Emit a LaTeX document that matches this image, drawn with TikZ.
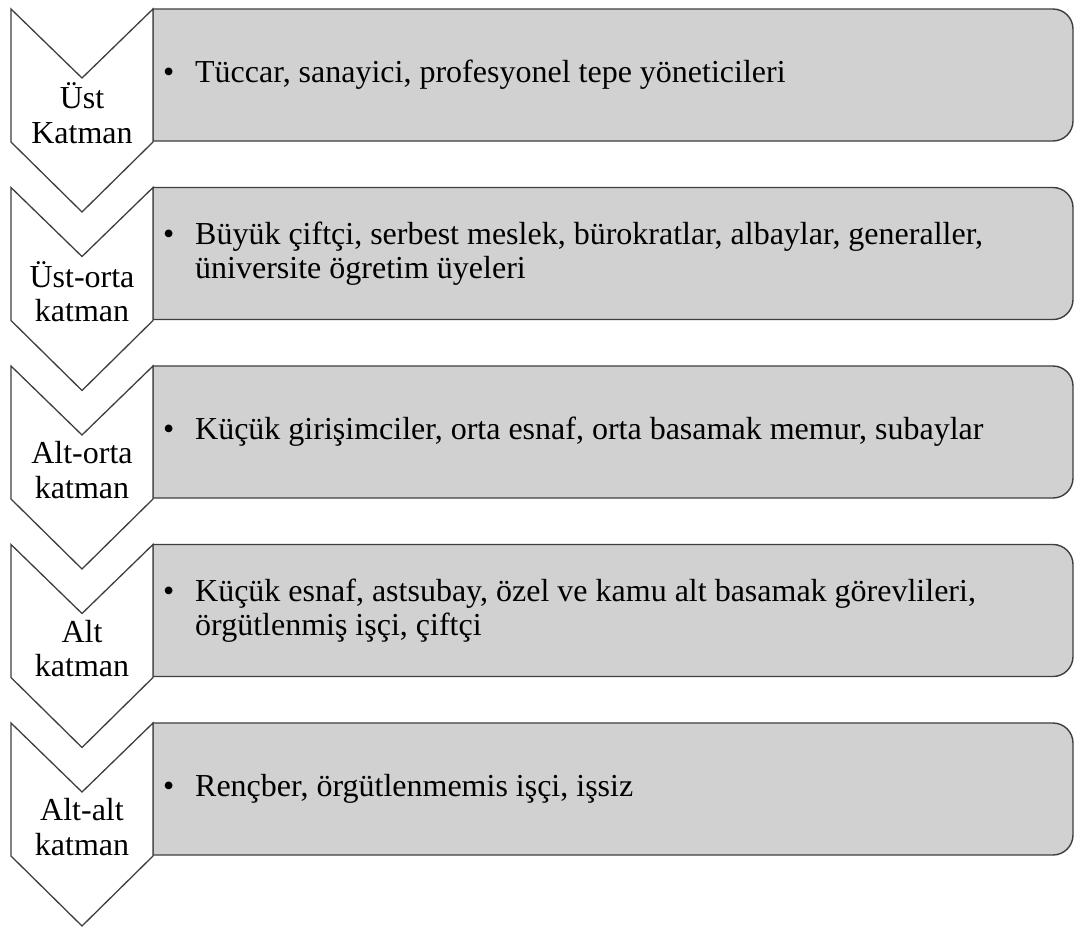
\documentclass[tikz,border=0pt]{standalone}
\usepackage{fontspec}
\setmainfont{Liberation Serif}
\definecolor{linegray}{RGB}{62,62,62}
\definecolor{boxgray}{RGB}{209,209,209}
\newcommand{\layerbox}[3]{%
  % #1 = top y, #2 = name, #3 = content
  \draw[boxstyle] (153,#1) -- (1053,#1) arc[start angle=-90,end angle=0,radius=20]
    -- (1073,#1+112) arc[start angle=0,end angle=90,radius=20] -- (153,#1+132) -- cycle;
  \node[boxtext] (#2) at (163,#1+67) {#3};
}
\newcommand{\layerchev}[3]{%
  \draw[chevstyle] (11,#1) -- (82,#1+69) -- (153,#1) -- (153,#1+133) -- (82,#1+203) -- (11,#1+133) -- cycle;
  \node[chevtext] (#2) at (82,#1+104) {#3};
}
\begin{document}
\begin{tikzpicture}[x=1pt,y=-1pt,
  boxstyle/.style={draw=linegray,fill=boxgray,line width=1.4pt},
  chevstyle/.style={draw=linegray,fill=white,line width=1.3pt,line join=miter},
  boxtext/.style={anchor=west,inner sep=0pt,align=left,font=\fontsize{32}{34.5}\selectfont},
  chevtext/.style={inner sep=0pt,align=center,font=\fontsize{32}{34.5}\selectfont}]
\useasboundingbox (0,0) rectangle (1082,927);
\layerbox{9}{b1}{\begin{tabular}{@{}l@{}l@{}}\makebox[32pt][l]{\textbullet}&Tüccar, sanayici, profesyonel tepe yöneticileri\end{tabular}}
\layerbox{187.5}{b2}{\begin{tabular}{@{}l@{}l@{}}\makebox[32pt][l]{\textbullet}&Büyük çiftçi, serbest meslek, bürokratlar, albaylar, generaller,\\ &üniversite ögretim üyeleri\end{tabular}}
\layerbox{366}{b3}{\begin{tabular}{@{}l@{}l@{}}\makebox[32pt][l]{\textbullet}&Küçük girişimciler, orta esnaf, orta basamak memur, subaylar\end{tabular}}
\layerbox{544.5}{b4}{\begin{tabular}{@{}l@{}l@{}}\makebox[32pt][l]{\textbullet}&Küçük esnaf, astsubay, özel ve kamu alt basamak görevlileri,\\ &örgütlenmiş işçi, çiftçi\end{tabular}}
\layerbox{723}{b5}{\begin{tabular}{@{}l@{}l@{}}\makebox[32pt][l]{\textbullet}&Rençber, örgütlenmemis işçi, işsiz\end{tabular}}
\layerchev{9}{c1}{Üst\\Katman}
\layerchev{187.5}{c2}{Üst-orta\\katman}
\layerchev{366}{c3}{Alt-orta\\katman}
\layerchev{544.5}{c4}{Alt\\katman}
\layerchev{723}{c5}{Alt-alt\\katman}
\end{tikzpicture}
\end{document}
